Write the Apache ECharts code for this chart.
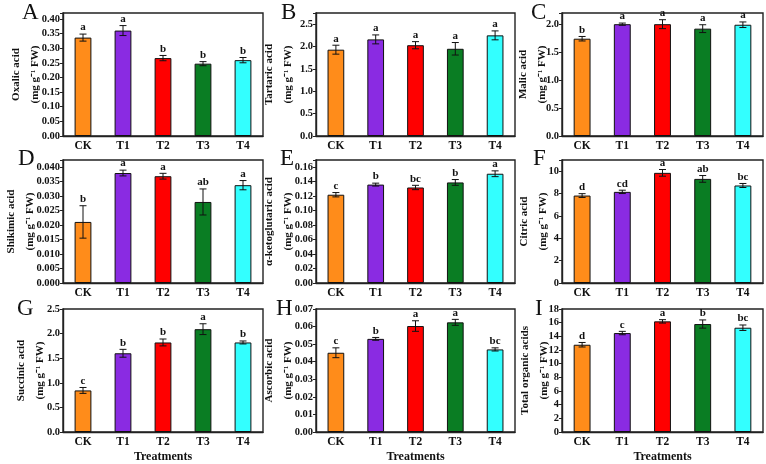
<!DOCTYPE html>
<html><head><meta charset="utf-8">
<script src="https://cdn.jsdelivr.net/npm/echarts@6/dist/echarts.min.js"></script>
<style>html,body{margin:0;padding:0;background:#fff}#c{width:766px;height:464px}</style>
</head><body><div id="c"></div>
<script>
// ---- data ----
const categories = ['CK', 'T1', 'T2', 'T3', 'T4'];

const oxalicAcid = [0.336, 0.360, 0.266, 0.247, 0.259];
const oxalicErr = [0.012, 0.017, 0.009, 0.007, 0.009];
const oxalicLetters = ['a', 'a', 'b', 'b', 'b'];

const tartaricAcid = [1.93, 2.16, 2.03, 1.95, 2.25];
const tartaricErr = [0.10, 0.10, 0.08, 0.14, 0.10];
const tartaricLetters = ['a', 'a', 'a', 'a', 'a'];

const malicAcid = [1.74, 2.00, 2.00, 1.92, 1.99];
const malicErr = [0.04, 0.02, 0.08, 0.07, 0.05];
const malicLetters = ['b', 'a', 'a', 'a', 'a'];

const shikimicAcid = [0.0211, 0.0380, 0.0369, 0.0280, 0.0338];
const shikimicErr = [0.0056, 0.0010, 0.0010, 0.0045, 0.0016];
const shikimicLetters = ['b', 'a', 'a', 'ab', 'a'];

const ketoglutaricAcid = [0.122, 0.136, 0.132, 0.139, 0.151];
const ketoglutaricErr = [0.003, 0.002, 0.003, 0.004, 0.004];
const ketoglutaricLetters = ['c', 'b', 'bc', 'b', 'a'];

const citricAcid = [7.82, 8.15, 9.85, 9.31, 8.72];
const citricErr = [0.17, 0.15, 0.30, 0.30, 0.18];
const citricLetters = ['d', 'cd', 'a', 'ab', 'bc'];

const succinicAcid = [0.845, 1.60, 1.82, 2.09, 1.82];
const succinicErr = [0.06, 0.08, 0.07, 0.11, 0.03];
const succinicLetters = ['c', 'b', 'b', 'a', 'b'];

const ascorbicAcid = [0.0451, 0.0530, 0.0603, 0.0624, 0.0470];
const ascorbicErr = [0.0028, 0.0008, 0.0030, 0.0017, 0.0009];
const ascorbicLetters = ['c', 'b', 'a', 'a', 'bc'];

const totalAcids = [12.77, 14.48, 16.19, 15.80, 15.26];
const totalErr = [0.33, 0.25, 0.25, 0.60, 0.40];
const totalLetters = ['d', 'c', 'a', 'b', 'bc'];

// axis scales: [max, interval, decimals]
const yScales = [
  [0.42, 0.05, 2], [2.75, 0.5, 1], [2.2, 0.5, 1],
  [0.0425, 0.005, 3], [0.17, 0.02, 2], [11, 2, 0],
  [2.5, 0.5, 1], [0.07, 0.01, 2], [18, 2, 0]
];
const panelTags = ['A', 'B', 'C', 'D', 'E', 'F', 'G', 'H', 'I'];
const yNames = ['Oxalic acid', 'Tartaric acid', 'Malic acid', 'Shikimic acid', 'α-ketoglutaric acid',
  'Citric acid', 'Succinic acid', 'Ascorbic acid', 'Total organic acids'];
const unitLabel = '(mg g⁻¹ FW)';
const xName = 'Treatments';

const panelValues = [oxalicAcid, tartaricAcid, malicAcid, shikimicAcid, ketoglutaricAcid, citricAcid, succinicAcid, ascorbicAcid, totalAcids];
const panelErrs = [oxalicErr, tartaricErr, malicErr, shikimicErr, ketoglutaricErr, citricErr, succinicErr, ascorbicErr, totalErr];
const panelLetters = [oxalicLetters, tartaricLetters, malicLetters, shikimicLetters, ketoglutaricLetters, citricLetters, succinicLetters, ascorbicLetters, totalLetters];

// ---- layout / style ----
const colLeft = [63, 316, 562];
const colWidth = [200, 199, 201];
const rowTop = [13, 160, 309];
const gridHeight = 123;
const nameGaps = [18.5, 18.5, 10, 23, 18.5, 9.5, 13.5, 18.5, 8.5];
const tagPos = [[22, 10], [281, 10], [531, 10], [18, 156], [280, 156], [533, 156], [17, 306], [276, 306], [535, 306]];
const barColors = ['#ff8c1a', '#8a2be2', '#ff0000', '#0a7d23', '#33ffff'];
const FONT = '"Liberation Serif", "Times New Roman", serif';

const grids = [], xAxes = [], yAxes = [], series = [], graphics = [];
for (let i = 0; i < 9; i++) {
  const r = Math.floor(i / 3), c = i % 3;
  const [ymax, yint, dec] = yScales[i];
  grids.push({ left: colLeft[c], top: rowTop[r], width: colWidth[c], height: gridHeight,
    show: true, borderColor: '#222', borderWidth: 1.4, backgroundColor: 'transparent' });
  xAxes.push({
    type: 'category', gridIndex: i, data: categories,
    axisLine: { lineStyle: { color: '#222', width: 1.4 } },
    axisTick: { show: false },
    axisLabel: { fontFamily: FONT, fontWeight: 'bold', fontSize: 11.5, color: '#111', margin: 4 },
    name: r === 2 ? xName : '', nameLocation: 'middle', nameGap: 19, nameMoveOverlap: false,
    nameTextStyle: { fontFamily: FONT, fontWeight: 'bold', fontSize: 12, color: '#111' }
  });
  yAxes.push({
    type: 'value', gridIndex: i, min: 0, max: ymax, interval: yint,
    axisLine: { show: true, lineStyle: { color: '#222', width: 1.4 } },
    axisTick: { show: true, inside: false, length: 3, lineStyle: { color: '#222' } },
    splitLine: { show: false },
    axisLabel: {
      fontFamily: FONT, fontWeight: 'bold', fontSize: 10.5, color: '#111', margin: 3,
      formatter: function (v) {
        const q = v / yint;
        if (Math.abs(q - Math.round(q)) > 1e-6) return '';
        return v.toFixed(dec);
      }
    },
    name: yNames[i] + '\n' + unitLabel, nameLocation: 'middle', nameRotate: 90, nameGap: nameGaps[i],
    nameMoveOverlap: false,
    nameTextStyle: { fontFamily: FONT, fontWeight: 'bold', fontSize: 11, color: '#111', lineHeight: 19 }
  });
  const vals = panelValues[i], errs = panelErrs[i], lets = panelLetters[i];
  series.push({
    type: 'bar', xAxisIndex: i, yAxisIndex: i, barWidth: '42%',
    data: vals.map((v, k) => ({ value: v, itemStyle: { color: barColors[k] } })),
    itemStyle: { borderColor: '#111', borderWidth: 1 },
    silent: true
  });
  series.push({
    type: 'custom', xAxisIndex: i, yAxisIndex: i, z: 5, silent: true,
    data: vals.map((v, k) => [k, v, errs[k]]),
    renderItem: function (params, api) {
      const k = api.value(0), v = api.value(1), e = api.value(2);
      const top = api.coord([k, v + e]), bot = api.coord([k, v - e]);
      const hw = 3.5;
      const st = { stroke: '#111', lineWidth: 1 };
      return { type: 'group', children: [
        { type: 'line', shape: { x1: top[0], y1: top[1], x2: bot[0], y2: bot[1] }, style: st },
        { type: 'line', shape: { x1: top[0] - hw, y1: top[1], x2: top[0] + hw, y2: top[1] }, style: st },
        { type: 'line', shape: { x1: bot[0] - hw, y1: bot[1], x2: bot[0] + hw, y2: bot[1] }, style: st },
        { type: 'text', style: { text: lets[k], x: top[0], y: top[1] - 1, align: 'center', verticalAlign: 'bottom',
          font: 'bold 11px ' + FONT, fill: '#111' } }
      ] };
    }
  });
  graphics.push({ type: 'text', left: tagPos[i][0], top: tagPos[i][1] - 9,
    style: { text: panelTags[i], font: '23px ' + FONT, fill: '#111' } });
}

const chart = echarts.init(document.getElementById('c'), null, { renderer: 'canvas' });
chart.setOption({
  animation: false,
  backgroundColor: '#fff',
  grid: grids, xAxis: xAxes, yAxis: yAxes, series: series, graphic: graphics
});
</script>
</body></html>
